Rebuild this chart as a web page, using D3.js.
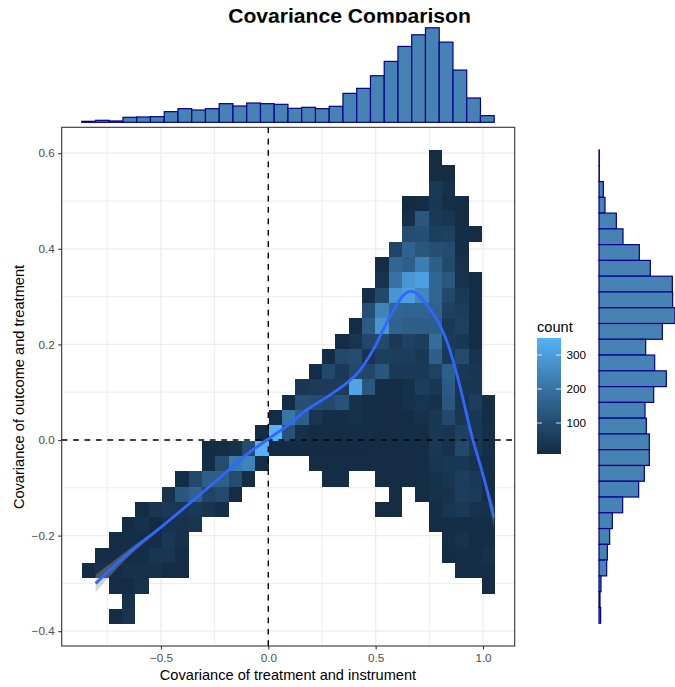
<!DOCTYPE html>
<html>
<head>
<meta charset="utf-8">
<title>Covariance Comparison</title>
<script src="https://d3js.org/d3.v7.min.js"></script>
<style>
  html, body { margin: 0; padding: 0; background: #fff; }
  svg { display: block; font-family: "Liberation Sans", Arial, sans-serif; }
</style>
</head>
<body>
<svg id="chart" width="675" height="687"></svg>
<script>
// 2d bin counts, one entry per unbroken run of cells: row (from the top), first column, counts
const heatRow = [0, 1, 2, 3, 4, 5, 6, 7, 8, 9, 10, 11, 12, 13, 14, 15, 16, 17, 18, 19,
    20, 20, 21, 21, 21, 22, 22, 22, 23, 23, 23, 24, 24, 25, 25, 26, 26, 27, 27, 28, 28, 29, 30];
const heatCol = [26, 26, 26, 24, 24, 24, 23, 22, 22, 21, 21, 20, 19, 18, 17, 16, 15, 14, 13, 9,
    9, 17, 7, 18, 22, 6, 23, 25, 4, 22, 26, 3, 26, 2, 27, 1, 27, 0, 28, 2, 30, 3, 2];
const heatCounts = [
    [12],
    [12, 12],
    [50, 25],
    [10, 15, 45, 20, 12],
    [20, 130, 50, 40, 12],
    [100, 110, 65, 70, 15, 12],
    [80, 165, 130, 110, 100, 18],
    [12, 170, 150, 230, 150, 95, 28],
    [28, 200, 285, 310, 170, 130, 30, 12],
    [22, 90, 285, 310, 250, 170, 90, 50, 15],
    [110, 240, 170, 165, 165, 160, 75, 60, 15],
    [14, 140, 285, 160, 150, 150, 150, 50, 70, 15],
    [15, 35, 85, 95, 50, 75, 60, 185, 55, 45, 15],
    [15, 90, 100, 35, 65, 60, 60, 45, 150, 50, 95, 30],
    [15, 90, 50, 90, 85, 130, 50, 50, 50, 75, 150, 50, 40],
    [45, 55, 55, 55, 320, 130, 18, 18, 25, 60, 45, 140, 40, 40],
    [15, 110, 100, 90, 120, 25, 18, 18, 14, 25, 35, 25, 130, 40, 60, 18],
    [15, 210, 150, 35, 18, 18, 25, 18, 14, 14, 14, 25, 45, 95, 45, 45, 18],
    [12, 350, 120, 25, 14, 14, 14, 18, 18, 14, 18, 18, 18, 45, 40, 70, 45, 20],
    [10, 12, 25, 100, 350, 10, 10, 10, 10, 10, 10, 10, 12, 12, 12, 12, 12, 45, 30, 90, 45, 20],
    [12, 100, 220, 240, 12],
    [12, 12, 12, 12, 12, 12, 12, 12, 12, 40, 45, 45, 30, 18],
    [15, 90, 150, 150, 100, 12],
    [12, 12],
    [12, 12, 12, 12, 25, 40, 60, 50, 18],
    [28, 130, 160, 80, 95, 12],
    [12],
    [12, 25, 30, 60, 55, 18],
    [15, 40, 50, 40, 50, 35, 18],
    [12, 12],
    [18, 40, 50, 30, 25],
    [15, 25, 10, 30, 30, 35],
    [12, 18, 18, 18, 18],
    [12, 18, 18, 18, 45, 25],
    [18, 30, 12, 18],
    [18, 12, 14, 18, 40, 40, 18],
    [12, 18, 18, 25],
    [12, 30, 18, 25, 25, 25, 12, 12],
    [18, 18, 18],
    [12, 12, 30],
    [12],
    [25],
    [12, 35]
];

// marginal histograms, counts per bin
const topHistCounts = [30, 60, 40, 150, 160, 170, 320, 410, 370, 410, 560, 490, 580, 560, 540,
    420, 450, 410, 480, 870, 1020, 1400, 1830, 2280, 2630, 2840, 2410, 1570, 730, 200];
const rightHistCounts = [10, 10, 130, 180, 520, 720, 1210, 1540, 2200, 2210, 2280, 1900, 1400, 1670, 2020,
    1640, 1380, 1420, 1510, 1510, 1360, 1190, 710, 400, 320, 250, 230, 60, 30, 50];

// smoother and its standard error
const smoothX = [-0.804, -0.644, -0.504, -0.341, -0.184, -0.085, -0.007, 0.086, 0.179, 0.287, 0.365,
    0.412, 0.488, 0.551, 0.621, 0.641, 0.665, 0.688, 0.714, 0.753, 0.8, 0.837, 0.877, 0.953, 0.994, 1.051];
const smoothY = [-0.3, -0.234, -0.184, -0.123, -0.063, -0.025, 0, 0.029, 0.063, 0.094, 0.119,
    0.138, 0.188, 0.245, 0.298, 0.3075, 0.311, 0.3075, 0.296, 0.274, 0.24, 0.2, 0.14, 0, -0.063, -0.162];
const smoothSe = [0.018, 0.007, 0.003, 0.002, 0.002, 0.002, 0.002, 0.002, 0.002, 0.002, 0.002,
    0.002, 0.002, 0.002, 0.002, 0.002, 0.002, 0.002, 0.002, 0.002, 0.002, 0.002, 0.002, 0.003, 0.005, 0.02];

const xTicks = [-0.5, 0, 0.5, 1];
const xMinor = [-0.75, -0.25, 0.25, 0.75];
const yTicks = [-0.4, -0.2, 0, 0.2, 0.4, 0.6];
const yMinor = [-0.3, -0.1, 0.1, 0.3, 0.5];
const legendTicks = [100, 200, 300];

// bin layout in data units
const heatBinX = { start: -0.8677, width: 0.0621 };
const heatBinY = { start: 0.6067, height: 0.032 };
const topBin = { start: -0.869, width: 0.06404 };
const rightBin = { start: 0.6067, height: 0.033 };

const panel = { left: 61.7, right: 514.7, top: 127.3, bottom: 646 };
const svg = d3.select('#chart');

const x = d3.scaleLinear().domain([0, 1]).range([268.3, 483]);
const y = d3.scaleLinear().domain([0, 0.6]).range([440, 153.2]);

// Same lab ramp ggplot uses for its default continuous fill
const countDomain = [9, 350];
const color = d3.scaleLinear().domain(countDomain)
    .range(['#132B43', '#56B1F7'])
    .interpolate(d3.interpolateLab);

// Title, cut off at the bottom like the reference
svg.append('clipPath').attr('id', 'title-clip')
    .append('rect').attr('x', 0).attr('y', 0).attr('width', 675).attr('height', 22.8);
svg.append('g').attr('clip-path', 'url(#title-clip)')
    .append('text')
    .attr('x', 349.5)
    .attr('y', 22.8)
    .attr('text-anchor', 'middle')
    .style('font-size', '21.1px')
    .style('font-weight', 'bold')
    .style('fill', '#000')
    .text('Covariance Comparison');

// Grid
const grid = svg.append('g').attr('stroke', '#EBEBEB').attr('fill', 'none');
grid.selectAll('.minor-x').data(xMinor).join('line')
    .attr('x1', d => x(d)).attr('x2', d => x(d))
    .attr('y1', panel.top).attr('y2', panel.bottom).attr('stroke-width', 0.9);
grid.selectAll('.major-x').data(xTicks).join('line')
    .attr('x1', d => x(d)).attr('x2', d => x(d))
    .attr('y1', panel.top).attr('y2', panel.bottom).attr('stroke-width', 1.2);
grid.selectAll('.minor-y').data(yMinor).join('line')
    .attr('y1', d => y(d)).attr('y2', d => y(d))
    .attr('x1', panel.left).attr('x2', panel.right).attr('stroke-width', 0.9);
grid.selectAll('.major-y').data(yTicks).join('line')
    .attr('y1', d => y(d)).attr('y2', d => y(d))
    .attr('x1', panel.left).attr('x2', panel.right).attr('stroke-width', 1.2);

// Heatmap tiles
const cells = [];
heatCounts.forEach(function(run, r) {
    run.forEach(function(count, k) {
        cells.push({ row: heatRow[r], col: heatCol[r] + k, count: count });
    });
});
svg.append('g').attr('shape-rendering', 'crispEdges')
    .selectAll('rect').data(cells).join('rect')
    .attr('x', d => x(heatBinX.start + d.col * heatBinX.width))
    .attr('width', x(heatBinX.width) - x(0))
    .attr('y', d => y(heatBinY.start - d.row * heatBinY.height))
    .attr('height', y(0) - y(heatBinY.height))
    .attr('fill', d => color(d.count));

// Reference lines at zero
svg.append('line')
    .attr('x1', x(0)).attr('x2', x(0))
    .attr('y1', panel.bottom).attr('y2', panel.top)
    .attr('stroke', '#000').attr('stroke-width', 1.4).attr('stroke-dasharray', '5.7,5.7');
svg.append('line')
    .attr('x1', panel.left).attr('x2', panel.right)
    .attr('y1', y(0)).attr('y2', y(0))
    .attr('stroke', '#000').attr('stroke-width', 1.4).attr('stroke-dasharray', '5.7,5.7');

// Smoother and ribbon
const smoothData = smoothX.map((d, i) => ({ x: d, y: smoothY[i], se: smoothSe[i] }));
svg.append('path')
    .datum(smoothData)
    .attr('d', d3.area()
        .x(d => x(d.x))
        .y0(d => y(d.y - d.se))
        .y1(d => y(d.y + d.se))
        .curve(d3.curveMonotoneX))
    .attr('fill', '#999999')
    .attr('fill-opacity', 0.4);
svg.append('path')
    .datum(smoothData)
    .attr('d', d3.line().x(d => x(d.x)).y(d => y(d.y)).curve(d3.curveMonotoneX))
    .attr('fill', 'none')
    .attr('stroke', '#3366FF')
    .attr('stroke-width', 2.8);

// Panel border
svg.append('rect')
    .attr('x', panel.left).attr('y', panel.top)
    .attr('width', panel.right - panel.left).attr('height', panel.bottom - panel.top)
    .attr('fill', 'none').attr('stroke', '#333333').attr('stroke-width', 1.1);

// Axes
const xAxis = svg.append('g')
    .attr('transform', `translate(0,${panel.bottom})`)
    .call(d3.axisBottom(x).tickValues(xTicks).tickFormat(d3.format('.1f')).tickSize(3.5).tickPadding(4));
const yAxis = svg.append('g')
    .attr('transform', `translate(${panel.left},0)`)
    .call(d3.axisLeft(y).tickValues(yTicks).tickFormat(d3.format('.1f')).tickSize(3.5).tickPadding(3.5));
[xAxis, yAxis].forEach(function(axis) {
    axis.select('.domain').remove();
    axis.selectAll('.tick line').attr('stroke', '#333333').attr('stroke-width', 1.1);
    axis.selectAll('text')
        .style('font-family', '"Liberation Sans", Arial, sans-serif')
        .style('font-size', '11.7px')
        .style('fill', '#4D4D4D');
});

// Axis labels
svg.append('text')
    .attr('x', 288)
    .attr('y', 680)
    .attr('text-anchor', 'middle')
    .style('font-size', '14.6px')
    .style('fill', '#000')
    .text('Covariance of treatment and instrument');
svg.append('text')
    .attr('transform', 'rotate(-90)')
    .attr('x', -387)
    .attr('y', 24)
    .attr('text-anchor', 'middle')
    .style('font-size', '14.6px')
    .style('fill', '#000')
    .text('Covariance of outcome and treatment');

// Top marginal histogram
const topY = d3.scaleLinear().domain([0, 2840]).range([122.3, 27.8]);
svg.append('g').selectAll('rect').data(topHistCounts).join('rect')
    .attr('x', (d, i) => x(topBin.start + i * topBin.width))
    .attr('width', x(topBin.width) - x(0))
    .attr('y', d => topY(d))
    .attr('height', d => topY(0) - topY(d))
    .attr('fill', 'steelblue')
    .attr('stroke', '#00008B')
    .attr('stroke-width', 1.2);

// Right marginal histogram
const rightX = d3.scaleLinear().domain([0, 2280]).range([599, 675]);
svg.append('g').selectAll('rect').data(rightHistCounts).join('rect')
    .attr('x', rightX(0))
    .attr('width', d => rightX(d) - rightX(0))
    .attr('y', (d, i) => y(rightBin.start - i * rightBin.height))
    .attr('height', y(0) - y(rightBin.height))
    .attr('fill', 'steelblue')
    .attr('stroke', '#00008B')
    .attr('stroke-width', 1.2);

// Colour legend
const legendY = d3.scaleLinear().domain(countDomain).range([454, 338]);
const legend = { left: 537, width: 24, tick: 5 };
const gradient = svg.append('defs').append('linearGradient')
    .attr('id', 'count-ramp')
    .attr('x1', 0).attr('x2', 0).attr('y1', 1).attr('y2', 0);
d3.range(0, 1.001, 0.05).forEach(function(t) {
    gradient.append('stop')
        .attr('offset', t)
        .attr('stop-color', color(countDomain[0] + t * (countDomain[1] - countDomain[0])));
});
svg.append('rect')
    .attr('x', legend.left).attr('width', legend.width)
    .attr('y', legendY(countDomain[1])).attr('height', legendY(countDomain[0]) - legendY(countDomain[1]))
    .attr('fill', 'url(#count-ramp)');
const legendTick = svg.append('g').selectAll('g').data(legendTicks).join('g');
legendTick.append('line')
    .attr('x1', legend.left).attr('x2', legend.left + legend.tick)
    .attr('y1', d => legendY(d)).attr('y2', d => legendY(d))
    .attr('stroke', '#fff').attr('stroke-opacity', 0.8);
legendTick.append('line')
    .attr('x1', legend.left + legend.width - legend.tick).attr('x2', legend.left + legend.width)
    .attr('y1', d => legendY(d)).attr('y2', d => legendY(d))
    .attr('stroke', '#fff').attr('stroke-opacity', 0.8);
legendTick.append('text')
    .attr('x', legend.left + legend.width + 5.5)
    .attr('y', d => legendY(d))
    .attr('dy', '0.36em')
    .style('font-size', '11.7px')
    .style('fill', '#000')
    .text(d => d);
svg.append('text')
    .attr('x', legend.left)
    .attr('y', 332)
    .style('font-size', '14.6px')
    .style('fill', '#000')
    .text('count');
</script>
</body>
</html>
